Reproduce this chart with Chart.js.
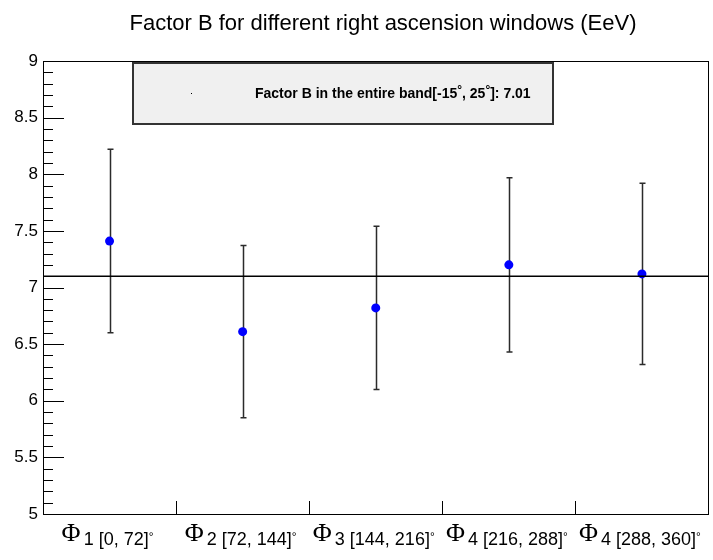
<!DOCTYPE html>
<html>
<head>
<meta charset="utf-8">
<script src="https://cdn.jsdelivr.net/npm/chart.js@4"></script>
<style>
    html, body { margin: 0; padding: 0; background: #fff; }
    #wrap { width: 713px; height: 560px; }
</style>
</head>
<body>
<div id="wrap"><canvas id="myChart" width="713" height="560"></canvas></div>
<script>
// right ascension windows
const windowIndex = ['1', '2', '3', '4', '4'];
const windowRange = ['[0, 72]', '[72, 144]', '[144, 216]', '[216, 288]', '[288, 360]'];

// factor B per window and its error (EeV)
const factorB = [7.41, 6.61, 6.82, 7.20, 7.12];
const factorErr = [0.81, 0.76, 0.72, 0.77, 0.80];

// reference level across the whole band
const bandLevel = [7.1, 7.1];

const yMin = 5, yMax = 9;
const xMin = 0, xMax = windowIndex.length;

const sans = '"Liberation Sans", Arial, Helvetica, sans-serif';
const serif = '"Liberation Serif", "Times New Roman", serif';

const rootStyle = {
    id: 'rootStyle',
    beforeDatasetsDraw(chart) {
        const { ctx, scales: { x, y } } = chart;
        ctx.save();
        ctx.strokeStyle = '#2b2b2b';
        ctx.lineWidth = 1.5;
        factorB.forEach((v, i) => {
            const px = Math.round(x.getPixelForValue(i + 0.5)) + 0.5;
            const top = y.getPixelForValue(v + factorErr[i]);
            const bot = y.getPixelForValue(v - factorErr[i]);
            ctx.beginPath();
            ctx.moveTo(px, top);
            ctx.lineTo(px, bot);
            ctx.moveTo(px - 3, top);
            ctx.lineTo(px + 3, top);
            ctx.moveTo(px - 3, bot);
            ctx.lineTo(px + 3, bot);
            ctx.stroke();
        });
        ctx.restore();
    },
    afterDraw(chart) {
        const { ctx, chartArea: a, scales: { x, y } } = chart;
        ctx.save();

        // frame
        ctx.strokeStyle = '#000';
        ctx.lineWidth = 1;
        ctx.strokeRect(Math.round(a.left) + 0.5, Math.round(a.top) + 0.5,
            Math.round(a.right - a.left) - 1, Math.round(a.bottom - a.top));

        // y ticks, inside the frame
        ctx.beginPath();
        for (let k = 0; k <= (yMax - yMin) * 10; k++) {
            const v = yMin + k / 10;
            const py = Math.round(y.getPixelForValue(v)) + 0.5;
            const len = k % 5 === 0 ? 21 : 10;
            ctx.moveTo(a.left, py);
            ctx.lineTo(a.left + len, py);
        }
        // x ticks at window edges
        for (let i = 1; i < xMax; i++) {
            const px = Math.round(x.getPixelForValue(i)) + 0.5;
            ctx.moveTo(px, a.bottom);
            ctx.lineTo(px, a.bottom - 13);
        }
        ctx.stroke();

        // x labels: Phi with subscript window
        ctx.fillStyle = '#000';
        ctx.textBaseline = 'alphabetic';
        ctx.textAlign = 'left';
        windowIndex.forEach((n, i) => {
            const sub = n + ' ' + windowRange[i];
            ctx.font = '26px ' + serif;
            const wPhi = ctx.measureText('\u03A6').width + 3;
            ctx.font = '18px ' + sans;
            const wSub = ctx.measureText(sub).width;
            ctx.font = '12px ' + sans;
            const wDeg = ctx.measureText('\u00B0').width;
            let px = x.getPixelForValue(i + 0.5) - (wPhi + wSub + wDeg) / 2 - 2;
            ctx.font = '26px ' + serif;
            ctx.fillText('\u03A6', px, 541);
            px += wPhi;
            ctx.font = '18px ' + sans;
            ctx.fillText(sub, px, 545);
            px += wSub;
            ctx.font = '12px ' + sans;
            ctx.fillText('\u00B0', px, 541);
        });

        // title
        ctx.font = '22px ' + sans;
        ctx.textAlign = 'center';
        ctx.fillText('Factor B for different right ascension windows (EeV)', 383, 30);

        // legend box
        ctx.fillStyle = '#f0f0f0';
        ctx.fillRect(133, 63, 420, 61);
        ctx.strokeStyle = '#333';
        ctx.lineWidth = 2;
        ctx.strokeRect(133, 63, 420, 61);
        ctx.fillStyle = '#000';
        ctx.fillRect(191, 93, 1, 1);

        const parts = [
            ['Factor B in the entire band[-15', 0],
            ['\u00B0', 1],
            [', 25', 0],
            ['\u00B0', 1],
            [']: 7.01', 0]
        ];
        ctx.textAlign = 'left';
        let lx = 255;
        parts.forEach(([t, sup]) => {
            ctx.font = sup ? 'bold 12px ' + sans : 'bold 14px ' + sans;
            ctx.fillText(t, lx, sup ? 94 : 98);
            lx += ctx.measureText(t).width;
        });

        ctx.restore();
    }
};

const ctx = document.getElementById('myChart');

new Chart(ctx, {
    type: 'scatter',
    data: {
        datasets: [
            {
                type: 'line',
                data: bandLevel.map((v, i) => ({ x: i === 0 ? xMin : xMax, y: v })),
                borderColor: '#000',
                borderWidth: 1.5,
                pointRadius: 0,
                fill: false
            },
            {
                data: factorB.map((v, i) => ({ x: i + 0.5, y: v })),
                backgroundColor: '#0000ff',
                borderColor: '#0000ff',
                pointRadius: 4.5,
                borderWidth: 0
            }
        ]
    },
    options: {
        responsive: false,
        animation: false,
        layout: {
            padding: { top: 61, right: 2, left: 0, bottom: 0 }
        },
        plugins: {
            legend: { display: false },
            title: { display: false },
            tooltip: { enabled: false }
        },
        scales: {
            x: {
                type: 'linear',
                min: xMin,
                max: xMax,
                grid: { display: false, drawTicks: false },
                border: { display: false },
                ticks: { display: false },
                afterFit: (scale) => { scale.height = 46; }
            },
            y: {
                min: yMin,
                max: yMax,
                grid: { display: false, drawTicks: false },
                border: { display: false },
                ticks: {
                    stepSize: 0.5,
                    autoSkip: false,
                    padding: 5,
                    color: '#000',
                    font: { family: sans, size: 17 },
                    callback: (val) => String(Math.round(val * 10) / 10)
                },
                afterFit: (scale) => { scale.width = 43; }
            }
        }
    },
    plugins: [rootStyle]
});
</script>
</body>
</html>
